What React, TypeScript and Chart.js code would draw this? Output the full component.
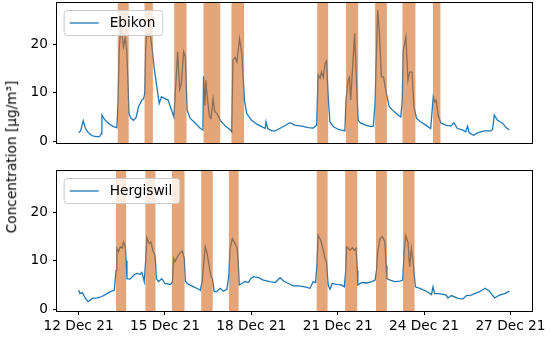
import React, { useEffect, useRef } from 'react';
import { Chart, registerables } from 'chart.js';

Chart.register(...registerables);

// ---- data (day of December 2021, concentration µg/m³) ----
const xTickValues = [12, 15, 18, 21, 24, 27];
const yTickValues = [0, 10, 20];

const ebikonTimes = [
  12.0, 12.07, 12.16, 12.24, 12.32, 12.42, 12.52, 12.62, 12.73, 12.78, 12.81, 12.9, 12.98, 13.1, 13.21, 13.33,
  13.37, 13.41, 13.47, 13.52, 13.56, 13.62, 13.67, 13.71, 13.75, 13.82, 13.91, 14.0, 14.08, 14.2, 14.26, 14.3,
  14.33, 14.36, 14.42, 14.48, 14.54, 14.62, 14.71, 14.8, 14.88, 15.0, 15.11, 15.23, 15.31, 15.36, 15.44, 15.51,
  15.57, 15.65, 15.71, 15.77, 15.88, 16.06, 16.23, 16.32, 16.34, 16.39, 16.42, 16.48, 16.55, 16.6, 16.67, 16.73,
  16.81, 16.92, 17.1, 17.27, 17.32, 17.36, 17.44, 17.5, 17.59, 17.67, 17.76, 17.84, 18.01, 18.19, 18.36, 18.48,
  18.51, 18.57, 18.71, 18.83, 19.05, 19.34, 19.51, 19.75, 19.98, 20.15, 20.27, 20.32, 20.39, 20.44, 20.5, 20.56,
  20.61, 20.67, 20.73, 20.85, 21.02, 21.25, 21.29, 21.36, 21.41, 21.45, 21.52, 21.59, 21.66, 21.71, 21.8, 21.98,
  22.15, 22.24, 22.3, 22.34, 22.39, 22.45, 22.52, 22.59, 22.67, 22.79, 22.96, 23.08, 23.19, 23.24, 23.28, 23.37,
  23.44, 23.5, 23.58, 23.65, 23.74, 23.88, 24.06, 24.23, 24.32, 24.37, 24.42, 24.49, 24.58, 24.75, 24.93, 25.04,
  25.16, 25.33, 25.45, 25.51, 25.57, 25.72, 25.86, 26.09, 26.32, 26.38, 26.44, 26.55, 26.73, 26.85, 26.96,
];
const ebikonValues = [
  1.7, 2.1, 4.2, 2.6, 1.9, 1.3, 1.0, 0.9, 0.9, 1.5, 5.4, 4.5, 4.0, 3.4, 3.0, 2.8,
  8, 19, 23.8, 21.5, 19.5, 21.4, 19.0, 13, 5.7, 4.7, 4.3, 4.9, 7.1, 8.5, 8.8, 10,
  19, 22.1, 21.7, 22.4, 19.9, 15.4, 11.6, 7.8, 9.2, 8.8, 8.5, 6.4, 5.0, 10, 18.5, 10.7,
  11.9, 18.5, 17.4, 6.4, 4.7, 3.7, 2.6, 2.3, 13.4, 7.4, 12.6, 8.5, 5.0, 4.7, 8.8, 6.1,
  5.7, 4.3, 3.1, 2.3, 1.9, 16.8, 17.3, 16.4, 21.2, 18.1, 8.5, 5.7, 4.3, 3.5, 3.0, 2.6,
  4.0, 2.6, 2.1, 2.1, 2.8, 3.8, 3.3, 3.1, 2.8, 2.7, 3.3, 13.7, 13.0, 14.3, 13.2, 16.1,
  16.6, 9.2, 4.0, 3.0, 2.4, 2.1, 8.5, 12.6, 13.2, 8.5, 15.4, 22.3, 11.2, 4.3, 3.7, 3.3,
  3.0, 3.1, 8, 17, 27.1, 22.3, 13.3, 13.3, 10.6, 7.1, 6.1, 5.5, 5.0, 8, 18.8, 21.6,
  12.6, 14.3, 14.3, 7.1, 4.7, 4.0, 3.3, 2.6, 9.2, 8.1, 8.5, 5.4, 3.8, 3.3, 3.1, 3.8,
  2.6, 2.3, 1.9, 3.1, 1.7, 1.2, 1.7, 2.1, 2.1, 2.4, 5.4, 4.3, 3.7, 2.8, 2.3,
];

const hergiswilTimes = [
  12.0, 12.05, 12.13, 12.24, 12.33, 12.47, 12.64, 12.81, 12.99, 13.1, 13.24, 13.3, 13.33, 13.39, 13.45, 13.52,
  13.56, 13.62, 13.65, 13.68, 13.79, 13.91, 14.03, 14.14, 14.2, 14.28, 14.33, 14.37, 14.45, 14.51, 14.58, 14.65,
  14.68, 14.7, 14.78, 14.89, 15.0, 15.18, 15.26, 15.3, 15.35, 15.43, 15.53, 15.6, 15.67, 15.71, 15.82, 16.0,
  16.17, 16.23, 16.3, 16.34, 16.4, 16.46, 16.53, 16.6, 16.65, 16.71, 16.8, 16.92, 17.03, 17.15, 17.22, 17.26,
  17.34, 17.43, 17.51, 17.56, 17.58, 17.67, 17.78, 17.9, 17.98, 18.07, 18.25, 18.42, 18.65, 18.83, 19.0, 19.12,
  19.29, 19.46, 19.63, 19.86, 20.04, 20.15, 20.23, 20.28, 20.32, 20.41, 20.5, 20.56, 20.61, 20.67, 20.73, 20.81,
  20.96, 21.13, 21.23, 21.28, 21.31, 21.37, 21.43, 21.51, 21.58, 21.64, 21.68, 21.7, 21.84, 22.01, 22.19, 22.3,
  22.35, 22.39, 22.47, 22.55, 22.64, 22.68, 22.71, 22.82, 22.99, 23.16, 23.26, 23.31, 23.36, 23.44, 23.5, 23.56,
  23.62, 23.66, 23.7, 23.85, 24.08, 24.26, 24.31, 24.37, 24.54, 24.77, 24.83, 24.95, 25.18, 25.35, 25.47, 25.64,
  25.75, 25.93, 26.12, 26.27, 26.45, 26.62, 26.8, 26.97,
];
const hergiswilValues = [
  3.9, 3.2, 3.4, 2.2, 1.5, 2.2, 2.3, 2.6, 3.2, 3.6, 3.9, 8, 12.6, 11.9, 12.9, 12.6,
  13.9, 13.2, 10, 6.3, 6.2, 7.0, 7.4, 7.2, 7.6, 5.7, 10, 14.8, 13.6, 13.9, 12.2, 11.2,
  9, 6.3, 5.7, 6.3, 5.3, 5.1, 5.5, 10.5, 9.8, 10.8, 11.7, 12.0, 10.5, 5.7, 5.1, 4.6,
  4.1, 3.9, 6, 9.1, 12.9, 11.7, 9.1, 6.7, 6.3, 3.6, 3.6, 4.3, 3.7, 4.1, 7, 12.6,
  14.6, 13.6, 12.6, 8, 5.0, 5.3, 5.7, 5.5, 6.3, 6.7, 6.5, 6.0, 5.7, 5.5, 6.5, 5.8,
  5.3, 4.8, 4.8, 4.6, 4.3, 5.7, 5.5, 9, 15.3, 14.3, 12.2, 10.5, 9.8, 5.0, 4.1, 5.3,
  5.1, 5.0, 4.6, 8, 12.9, 12.6, 12.2, 12.7, 12.2, 12.6, 8, 5.0, 5.5, 5.4, 5.7, 6.0,
  8, 11.9, 14.6, 15.0, 13.9, 9, 6.3, 6.0, 5.7, 5.8, 6.0, 11.9, 15.2, 13.9, 8.8, 12.6,
  9.8, 7, 4.6, 4.3, 3.7, 3.0, 4.6, 3.2, 3.2, 2.9, 2.3, 2.8, 2.2, 2.1, 2.8, 2.9,
  3.2, 3.6, 4.3, 3.7, 2.3, 2.9, 3.2, 3.7,
];

// shaded periods [start, end] in days of December
const ebikonSpans = [
  [13.36, 13.74], [14.29, 14.58], [15.32, 15.75], [16.34, 16.92], [17.31, 17.75],
  [20.29, 20.67], [21.29, 21.71], [22.3, 22.71], [23.25, 23.7], [24.31, 24.57],
];
const hergiswilSpans = [
  [13.3, 13.65], [14.32, 14.67], [15.24, 15.68], [16.26, 16.66], [17.22, 17.56],
  [20.27, 20.65], [21.26, 21.68], [22.33, 22.71], [23.27, 23.67],
];

const LINE_COLOR = '#1f77b4';
const SPAN_COLOR = 'rgba(210,105,30,0.6)';
const FONT_FAMILY = '"DejaVu Sans", sans-serif';
const FONT_SIZE = 13.7;

function makeOverlay(spans: number[][], label: string) {
  return {
    id: 'overlay',
    afterDatasetsDraw(chart: any) {
      const { ctx, chartArea: a, scales } = chart;
      const x = scales.x;
      ctx.save();
      ctx.fillStyle = SPAN_COLOR;
      for (const [s, e] of spans) {
        const x1 = x.getPixelForValue(s);
        const x2 = x.getPixelForValue(e);
        ctx.fillRect(x1, a.top, x2 - x1, a.bottom - a.top);
      }
      ctx.restore();
    },
    afterDraw(chart: any) {
      const { ctx, chartArea: a } = chart;
      ctx.save();
      // frame
      ctx.strokeStyle = '#000';
      ctx.lineWidth = 1;
      const l = Math.round(a.left) - 0.5;
      const r = Math.round(a.right) + 0.5;
      const t = Math.round(a.top) - 0.5;
      const b = Math.round(a.bottom) + 0.5;
      ctx.strokeRect(l, t, r - l, b - t);
      // legend
      ctx.font = `${FONT_SIZE}px ${FONT_FAMILY}`;
      const tw = ctx.measureText(label).width;
      const bx = a.left + 6.7;
      const by = a.top + 7;
      const bh = 25;
      const bw = 46 + tw + 7;
      ctx.beginPath();
      ctx.roundRect(bx + 0.5, by + 0.5, bw, bh, 3);
      ctx.fillStyle = 'rgba(255,255,255,0.8)';
      ctx.fill();
      ctx.strokeStyle = '#cccccc';
      ctx.lineWidth = 1;
      ctx.stroke();
      const cy = by + bh / 2 + 0.5;
      ctx.beginPath();
      ctx.moveTo(a.left + 12.7, cy);
      ctx.lineTo(a.left + 41.7, cy);
      ctx.strokeStyle = LINE_COLOR;
      ctx.lineWidth = 1.3;
      ctx.stroke();
      ctx.fillStyle = '#000';
      ctx.textBaseline = 'middle';
      ctx.textAlign = 'left';
      ctx.fillText(label, a.left + 52.7, cy);
      ctx.restore();
    },
  };
}

function buildConfig(times: number[], values: number[], spans: number[][], label: string, showX: boolean, padTop: number, padBottom: number): any {
  return {
    type: 'line',
    data: {
      datasets: [
        {
          label,
          data: times.map((t, i) => ({ x: t, y: values[i] })),
          borderColor: LINE_COLOR,
          borderWidth: 1.3,
          pointRadius: 0,
          tension: 0,
          fill: false,
        },
      ],
    },
    options: {
      animation: false,
      responsive: false,
      events: [],
      layout: { padding: { left: 0, right: 18, top: padTop, bottom: padBottom } },
      plugins: { legend: { display: false }, tooltip: { enabled: false } },
      scales: {
        x: {
          type: 'linear',
          min: 11.25,
          max: 27.75,
          display: showX,
          afterBuildTicks: (axis: any) => {
            axis.ticks = xTickValues.map((v) => ({ value: v }));
          },
          afterFit: (axis: any) => {
            axis.height = showX ? 26 : 0;
            axis.paddingLeft = 0;
            axis.paddingRight = 0;
          },
          grid: { display: true, drawOnChartArea: false, drawTicks: true, tickLength: 4, color: '#000', lineWidth: 1 },
          border: { display: false },
          ticks: {
            autoSkip: false,
            maxRotation: 0,
            minRotation: 0,
            padding: 3,
            color: '#000',
            font: { family: FONT_FAMILY, size: FONT_SIZE },
            callback: (v: any) => `${v} Dec 21`,
          },
        },
        y: {
          type: 'linear',
          min: -0.4,
          max: 28.6,
          afterBuildTicks: (axis: any) => {
            axis.ticks = yTickValues.map((v) => ({ value: v }));
          },
          afterFit: (axis: any) => {
            axis.width = 57;
            axis.paddingTop = 0;
            axis.paddingBottom = 0;
          },
          grid: { display: true, drawOnChartArea: false, drawTicks: true, tickLength: 4, color: '#000', lineWidth: 1 },
          border: { display: false },
          ticks: {
            padding: 5,
            color: '#000',
            font: { family: FONT_FAMILY, size: FONT_SIZE },
          },
        },
      },
    },
    plugins: [makeOverlay(spans, label)],
  };
}

export default function App() {
  const topRef = useRef<HTMLCanvasElement>(null);
  const bottomRef = useRef<HTMLCanvasElement>(null);

  useEffect(() => {
    const c1 = new Chart(topRef.current as HTMLCanvasElement, buildConfig(ebikonTimes, ebikonValues, ebikonSpans, 'Ebikon', false, 3, 7));
    const c2 = new Chart(bottomRef.current as HTMLCanvasElement, buildConfig(hergiswilTimes, hergiswilValues, hergiswilSpans, 'Hergiswil', true, 11, 0));
    return () => {
      c1.destroy();
      c2.destroy();
    };
  }, []);

  return (
    <div style={{ position: 'absolute', left: 0, top: 0, width: 550, height: 337, background: '#fff', overflow: 'hidden' }}>
      <canvas ref={topRef} width={550} height={150} style={{ position: 'absolute', left: 0, top: 0, width: 550, height: 150 }} />
      <canvas ref={bottomRef} width={550} height={177} style={{ position: 'absolute', left: 0, top: 160, width: 550, height: 177 }} />
      <div
        style={{
          position: 'absolute',
          left: 12,
          top: 157,
          transform: 'translate(-50%, -50%) rotate(-90deg)',
          whiteSpace: 'nowrap',
          fontFamily: FONT_FAMILY,
          fontSize: FONT_SIZE,
          lineHeight: 1,
          color: '#000',
        }}
      >
        Concentration [µg/m³]
      </div>
    </div>
  );
}
